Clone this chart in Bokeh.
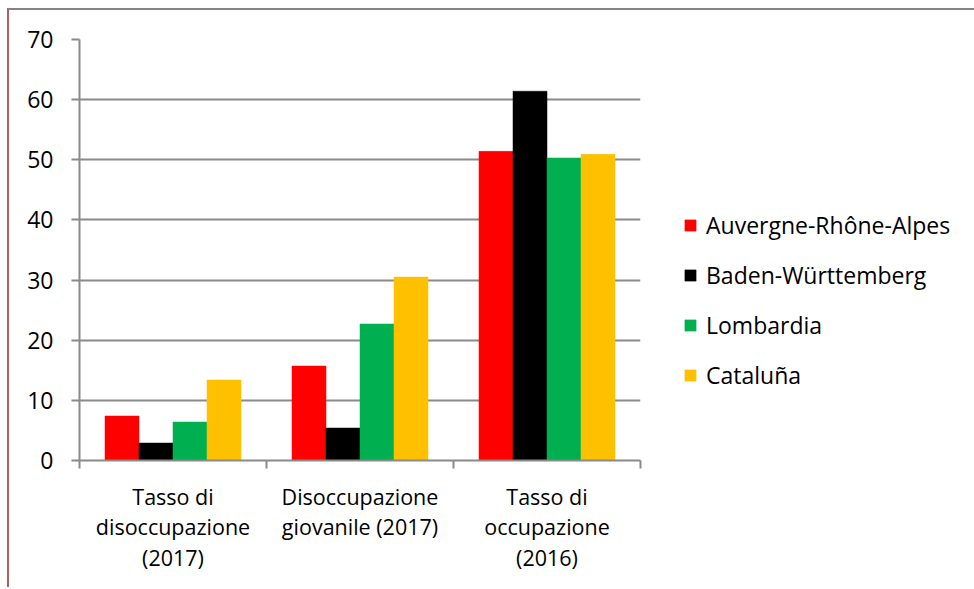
import numpy as np
from bokeh.plotting import figure
from bokeh.models import ColumnDataSource, FixedTicker, Legend, LegendItem, Range1d
from bokeh.embed import file_html
from bokeh.resources import INLINE

categories = ["Tasso di\ndisoccupazione\n(2017)", "Disoccupazione\ngiovanile (2017)", "Tasso di\noccupazione\n(2016)"]
regions = ["Auvergne-Rhône-Alpes", "Baden-Württemberg", "Lombardia", "Cataluña"]
colors = ["#FF0000", "#000000", "#00B050", "#FFC000"]
auvergne = [7.4, 15.7, 51.4]
baden = [2.9, 5.4, 61.4]
lombardia = [6.4, 22.7, 50.3]
cataluna = [13.4, 30.5, 50.9]
series = [auvergne, baden, lombardia, cataluna]
y_ticks = [0, 10, 20, 30, 40, 50, 60, 70]

FONT = "Open Sans"
GRID = "#8a8a8a"

p = figure(frame_width=561, frame_height=421, output_backend="svg", toolbar_location=None,
           x_range=Range1d(0, len(categories)), y_range=Range1d(0, 70),
           min_border_left=70, min_border_right=323, min_border_top=29, min_border_bottom=127)
p.outline_line_color = None
p.styles = {"margin-left": "7px", "margin-top": "8px",
            "border-top": "2px solid #8e8080", "border-left": "2px solid #b06060"}

bar_w = 1 / 5.5
centers = np.arange(len(categories)) + 0.5
items = []
for i, (name, vals, col) in enumerate(zip(regions, series, colors)):
    src = ColumnDataSource(dict(x=centers + (i - 1.5) * bar_w, top=vals))
    r = p.vbar(x="x", top="top", width=bar_w, source=src, fill_color=col, line_color=col, line_width=0.5)
    items.append(LegendItem(label=name, renderers=[r]))

# x axis: labels at centers, ticks at category boundaries
xa = p.xaxis[0]
xa.ticker = FixedTicker(ticks=list(centers), minor_ticks=list(range(len(categories) + 1)))
xa.major_label_overrides = {float(c): lab for c, lab in zip(centers, categories)}
xa.major_tick_out = 0
xa.major_tick_in = 0
xa.minor_tick_out = 8
xa.minor_tick_in = 0
xa.minor_tick_line_color = GRID
xa.minor_tick_line_width = 2
xa.axis_line_color = GRID
xa.axis_line_width = 2
xa.major_label_text_font = FONT
xa.major_label_text_font_size = "21.5px"
xa.major_label_text_color = "#000000"
xa.major_label_standoff = 13
xa.major_label_text_line_height = 1.06

ya = p.yaxis[0]
ya.ticker = FixedTicker(ticks=y_ticks, minor_ticks=[])
ya.major_tick_out = 8
ya.major_tick_in = 0
ya.major_tick_line_color = GRID
ya.major_tick_line_width = 2
ya.axis_line_color = GRID
ya.axis_line_width = 2
ya.major_label_text_font = FONT
ya.major_label_text_font_size = "23px"
ya.major_label_text_color = "#000000"
ya.major_label_standoff = 18

p.xgrid.grid_line_color = None
p.ygrid.grid_line_color = GRID
p.ygrid.grid_line_width = 2

legend = Legend(items=items, location=(43, 69), orientation="vertical",
                glyph_width=14, glyph_height=14, label_standoff=9, spacing=18,
                label_text_font=FONT, label_text_font_size="23px", label_text_color="#000000",
                padding=0, margin=0, border_line_color=None, background_fill_alpha=0)
p.add_layout(legend, "right")

open("out.html", "w").write(file_html(p, INLINE))
